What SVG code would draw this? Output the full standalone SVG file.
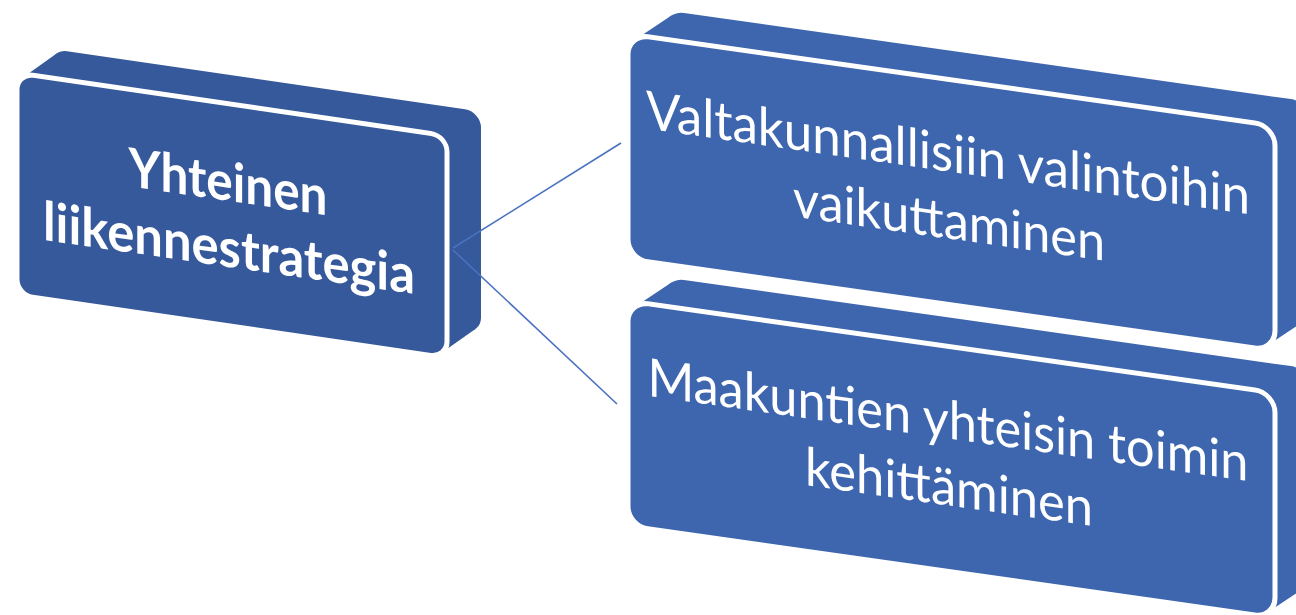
<svg xmlns="http://www.w3.org/2000/svg" width="1296" height="615" viewBox="0 0 1296 615">
  <style>
    .dark { fill: #35599A; }
    .light { fill: #3D66AE; }
    .front { stroke: #FFFFFF; stroke-width: 5; }
    .conn { stroke: #4A72C0; stroke-width: 1.6; fill: none; }
    .bold { font-family: Lato, "Liberation Sans", sans-serif; font-weight: bold; font-size: 54px; fill: #FFFFFF; text-anchor: middle; }
    .reg { font-family: Lato, "Liberation Sans", sans-serif; font-size: 53px; fill: #FFFFFF; text-anchor: middle; }
  </style>
  <defs>
    <g id="bigbox">
      <rect x="36" y="-29" width="647" height="225" rx="20" ry="20"/>
      <polygon points="7.44,4.42 43.44,-24.58 675.56,191.58 639.56,220.58"/>
      <rect class="front" x="0" y="0" width="647" height="225" rx="20" ry="20"/>
    </g>
  </defs>

  <g id="node-strategy" transform="translate(17,73) skewY(8.3)">
    <g class="dark">
      <rect x="34" y="-29" width="430" height="222" rx="16" ry="16"/>
      <polygon points="5.62,3.82 39.62,-25.18 458.38,189.18 424.38,218.18"/>
      <rect class="front" x="0" y="0" width="430" height="222" rx="16" ry="16"/>
    </g>
    <text class="bold" x="211" y="97" textLength="199" lengthAdjust="spacingAndGlyphs">Yhteinen</text>
    <text class="bold" x="212" y="163" textLength="372" lengthAdjust="spacingAndGlyphs">liikennestrategia</text>
  </g>

  <g id="node-valtakunnallinen" transform="translate(628,34) skewY(8.08)">
    <use href="#bigbox" class="light"/>
    <text class="reg" x="320" y="92" textLength="604" lengthAdjust="spacingAndGlyphs">Valtakunnallisiin valintoihin</text>
    <text class="reg" x="321" y="159" textLength="312" lengthAdjust="spacingAndGlyphs">vaikuttaminen</text>
  </g>

  <g id="node-maakunnat" transform="translate(628,301) skewY(8.08)">
    <use href="#bigbox" class="light"/>
    <text class="reg" x="320" y="92" textLength="601" lengthAdjust="spacingAndGlyphs">Maakuntien yhteisin toimin</text>
    <text class="reg" x="321" y="159" textLength="288" lengthAdjust="spacingAndGlyphs">kehittäminen</text>
  </g>

  <g id="connectors">
    <line class="conn" x1="453" y1="248" x2="621" y2="143"/>
    <line class="conn" x1="453" y1="250" x2="617" y2="404"/>
  </g>
</svg>
